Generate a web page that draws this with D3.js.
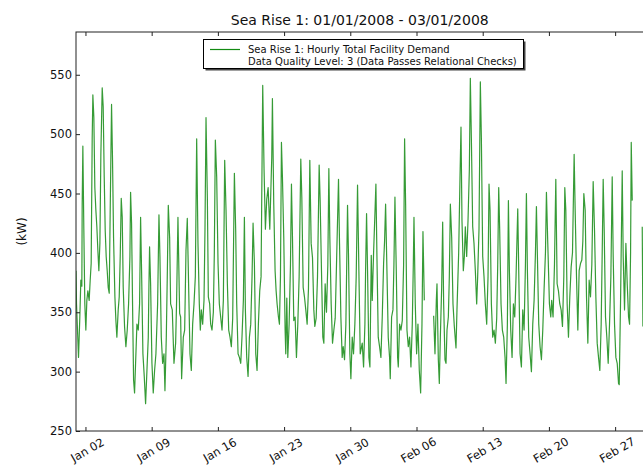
<!DOCTYPE html>
<html>
<head>
<meta charset="utf-8">
<script src="https://cdn.jsdelivr.net/npm/d3@7"></script>
<style>
  body { margin: 0; background: #fff; }
  text { font-family: 'DejaVu Sans', sans-serif; fill: #111; }
</style>
</head>
<body>
<script>
var TITLE = 'Sea Rise 1: 01/01/2008 - 03/01/2008';
var Y_LABEL = '(kW)';
var LEGEND_LINES = [
  'Sea Rise 1: Hourly Total Facility Demand',
  'Data Quality Level: 3 (Data Passes Relational Checks)'
];
var START = new Date(2008, 0, 1);
var END = new Date(2008, 2, 1);
var TICK_DATES = ['2008-01-02', '2008-01-09', '2008-01-16', '2008-01-23', '2008-01-30',
                  '2008-02-06', '2008-02-13', '2008-02-20', '2008-02-27'];
var Y_TICKS = [250, 300, 350, 400, 450, 500, 550];

// [hours since 01/01 00:00, kW]; null = missing data
var DEMAND_JAN_A = [
  [0, 385], [1.3, 357], [3.8, 335], [6.4, 312], [9.7, 346], [12.3, 377], [14.8, 372], [15.7, 441],
  [17.4, 490], [19.9, 419], [22.4, 357], [25.0, 335], [27.5, 360], [30.1, 368], [33.4, 360], [36.0, 377],
  [38.5, 391], [41.1, 497], [42.8, 533], [45.3, 514], [47.8, 455], [50.4, 436], [52.9, 422], [55.5, 402],
  [58.0, 385], [60.6, 408], [63.1, 483], [66.5, 539], [69.0, 523], [71.6, 464], [74.1, 419], [76.6, 397],
  [79.2, 385], [81.7, 371], [84.3, 366], [86.8, 436], [90.2, 525], [92.7, 478], [95.3, 413], [98.7, 363],
  [101.2, 343], [103.7, 329], [107.1, 352], [109.7, 363], [112.2, 397], [114.8, 446], [117.3, 430], [119.8, 371],
  [123.2, 338], [126.6, 321], [130.0, 335], [133.4, 357], [136.8, 397], [138.5, 451], [141.0, 425], [143.5, 357],
  [146.1, 293], [148.6, 282], [151.2, 307], [154.6, 340], [158.0, 335], [161.3, 357], [163.9, 430], [166.4, 385],
  [169.8, 315], [173.2, 296], [176.6, 273], [180.0, 301], [183.4, 329], [185.0, 371], [186.7, 405], [189.3, 374],
  [192.7, 307], [196.0, 282], [199.4, 301], [202.8, 315], [207.1, 357], [210.5, 432], [213.0, 397], [216.4, 329],
  [219.8, 307], [223.2, 315], [225.7, 284], [229.1, 329], [231.6, 380], [234.2, 440], [237.6, 413], [240.1, 357]
];
var DEMAND_JAN_B = [
  [244.3, 352], [248.6, 307], [252.8, 324], [255.3, 360], [258.7, 430], [263.0, 349], [265.5, 346], [268.0, 294],
  [272.3, 329], [275.7, 335], [279.1, 402], [282.4, 429], [286.7, 357], [289.2, 315], [292.6, 301], [296.0, 340],
  [299.4, 357], [302.8, 380], [306.2, 496], [309.5, 408], [312.9, 357], [315.5, 335], [318.0, 352], [321.4, 340],
  [324.8, 360], [327.3, 420], [329.9, 514], [333.3, 447], [335.8, 363], [339.2, 357], [341.7, 340], [345.1, 335],
  [348.5, 350], [351.0, 400], [353.6, 495], [357.0, 464], [360.4, 391], [363.7, 357], [367.1, 346], [370.5, 335],
  [373.9, 360], [377.3, 478], [380.7, 436], [384.1, 374], [387.5, 335], [390.8, 329], [394.2, 321], [397.6, 345],
  [401.9, 467], [405.2, 419], [407.8, 357], [411.2, 315], [414.6, 312], [418.0, 307], [421.3, 330], [424.7, 360],
  [427.3, 430], [429.8, 352], [433.2, 312], [436.6, 296], [440.0, 329], [443.4, 340], [446.7, 380], [449.3, 425],
  [452.7, 391], [456.1, 315], [459.4, 301], [462.8, 340], [466.2, 368], [469.6, 380], [473.8, 541], [477.2, 470]
];
var DEMAND_JAN_C = [
  [480.6, 420], [484.0, 445], [487.5, 455], [491.7, 420], [494.2, 450], [496.7, 480], [498.4, 530], [501.8, 441],
  [505.2, 385], [507.8, 368], [510.3, 357], [513.7, 346], [516.2, 340], [518.8, 380], [521.3, 493], [523.8, 464],
  [527.2, 413], [530.6, 335], [532.3, 315], [534.9, 362], [537.4, 312], [540.8, 340], [544.2, 390], [546.7, 458],
  [549.3, 413], [552.6, 343], [556.0, 346], [559.4, 312], [562.8, 340], [566.2, 380], [570.4, 479], [573.0, 447],
  [576.4, 371], [579.7, 363], [583.1, 352], [586.5, 340], [589.9, 370], [593.3, 478], [596.7, 408], [600.1, 396],
  [603.5, 352], [606.0, 338], [609.4, 345], [612.8, 380], [617.0, 474], [619.5, 444], [622.9, 385], [626.3, 329],
  [628.9, 324], [632.2, 374], [635.6, 350], [639.0, 390], [641.6, 471], [644.1, 413], [647.5, 357], [650.9, 324],
  [654.3, 335], [657.7, 345], [661.0, 390], [666.1, 462], [668.7, 408], [672.1, 346], [675.4, 312], [678.0, 321],
  [681.4, 310], [684.8, 340], [689.0, 440], [691.5, 397], [694.9, 315], [697.5, 294], [700.9, 329], [704.2, 315],
  [707.6, 340], [711.0, 380], [714.4, 457], [717.8, 385], [721.2, 315]
];
var DEMAND_FEB_A = [
  [726.3, 324], [729.7, 304], [733.1, 340], [734.8, 385], [737.3, 433], [739.8, 385], [743.2, 312], [745.8, 304],
  [749.2, 398], [751.7, 360], [755.1, 400], [758.5, 433], [761.0, 458], [763.6, 397], [766.9, 329], [770.3, 321],
  [773.7, 312], [777.1, 346], [780.5, 391], [783.0, 410], [785.6, 441], [789.0, 385], [792.3, 329], [795.7, 312],
  [797.4, 294], [800.8, 346], [804.2, 352], [806.7, 390], [809.3, 447], [812.7, 385], [816.1, 312], [817.8, 304],
  [821.1, 340], [824.5, 335], [827.9, 343], [831.3, 390], [833.8, 496], [836.4, 441], [839.8, 335], [843.2, 321],
  [846.5, 329], [849.9, 304], [853.3, 340], [855.9, 390], [857.6, 430], [860.9, 357], [864.3, 315], [867.7, 340],
  [871.1, 301], [874.5, 282], [877.9, 340], [880.4, 418], [883.8, 360], [895, null],
  [907.5, 347], [910.9, 315], [914.3, 360], [916.0, 374], [919.4, 310], [921.9, 290], [924.5, 329], [927.8, 370],
  [930.4, 426], [932.9, 357], [936.3, 310], [938.9, 307], [941.4, 335], [944.8, 346], [947.3, 380], [949.9, 441],
  [953.3, 413], [956.6, 357], [960.0, 338]
];
var DEMAND_FEB_B = [
  [964.2, 320], [966.7, 352], [971.0, 400], [974.4, 464], [976.9, 506], [979.4, 427], [982.8, 385], [985.4, 397],
  [987.9, 422], [991.3, 397], [994.7, 427], [998.1, 470], [1000.6, 547], [1003.2, 497], [1006.6, 422], [1009.9, 408],
  [1013.3, 385], [1016.7, 357], [1019.2, 380], [1022.6, 420], [1026.0, 544], [1028.6, 497], [1032.0, 397], [1035.3, 380],
  [1038.7, 357], [1042.1, 340], [1045.5, 380], [1048.0, 458], [1050.6, 436], [1054.0, 357], [1057.4, 329], [1060.7, 335],
  [1064.1, 324], [1067.5, 345], [1070.1, 390], [1072.6, 455], [1075.1, 419], [1078.5, 357], [1081.9, 335], [1085.3, 329],
  [1088.7, 312], [1091.2, 290], [1094.6, 340], [1097.2, 444], [1099.7, 385], [1103.1, 335], [1106.5, 312], [1109.9, 357],
  [1113.3, 346], [1116.6, 380], [1120.9, 437], [1123.4, 385], [1126.8, 315], [1130.2, 304], [1133.6, 352], [1137.0, 335],
  [1140.4, 390], [1142.9, 450], [1145.4, 385], [1148.8, 329], [1152.2, 315], [1155.6, 300], [1159.0, 340], [1162.4, 360],
  [1165.8, 400], [1168.3, 439], [1170.8, 397], [1174.2, 340], [1177.6, 321], [1181.0, 310], [1184.4, 335], [1187.8, 370],
  [1191.2, 400], [1193.7, 451], [1197.1, 408], [1201.3, 357], [1204.7, 346]
];
var DEMAND_FEB_C = [
  [1207.0, 360], [1210.5, 346], [1214.1, 390], [1217.5, 462], [1220.8, 374], [1224.2, 368], [1227.6, 357], [1231.0, 352],
  [1234.4, 338], [1237.8, 380], [1240.3, 455], [1242.9, 436], [1246.3, 357], [1249.6, 329], [1253.0, 363], [1256.4, 388],
  [1259.8, 400], [1264.0, 483], [1266.6, 436], [1270.0, 380], [1273.4, 335], [1276.7, 385], [1280.1, 391], [1283.5, 394],
  [1286.1, 410], [1288.6, 450], [1292.0, 436], [1295.4, 363], [1298.8, 324], [1302.1, 377], [1305.5, 363], [1308.9, 390],
  [1312.3, 460], [1315.7, 419], [1319.1, 363], [1322.5, 324], [1325.9, 312], [1329.2, 301], [1332.6, 340], [1335.2, 400],
  [1337.7, 462], [1340.3, 419], [1343.6, 346], [1347.0, 329], [1350.4, 307], [1353.8, 340], [1357.2, 380], [1360.6, 464],
  [1363.1, 397], [1366.5, 340], [1369.9, 312], [1373.3, 307], [1376.7, 290], [1378.4, 289], [1381.8, 360], [1386.0, 469],
  [1388.5, 397], [1391.9, 352], [1395.3, 408], [1398.7, 374], [1402.1, 346], [1404.6, 340], [1407.2, 400], [1408.9, 493],
  [1411.4, 444], [1424, null], [1436.8, 422], [1438.5, 338]
];

var width = 643, height = 470;
var plotLeft = 76, plotRight = 643.5, plotTop = 32, plotBottom = 431;

var data = [].concat(DEMAND_JAN_A, DEMAND_JAN_B, DEMAND_JAN_C, DEMAND_FEB_A, DEMAND_FEB_B, DEMAND_FEB_C)
    .map(function(d) { return { date: new Date(START.getTime() + d[0] * 3600e3), kw: d[1] }; });

var x = d3.scaleTime().domain([START, END]).range([plotLeft, plotRight]);
var y = d3.scaleLinear().domain([250, 586]).range([plotBottom, plotTop]);
var parse = d3.timeParse('%Y-%m-%d');
var fmt = d3.timeFormat('%b %d');
var ticks = TICK_DATES.map(parse);

var svg = d3.select('body').append('svg')
    .attr('width', width)
    .attr('height', height)
    ;

svg.append('defs').append('clipPath')
    .attr('id', 'plot')
    .append('rect')
    .attr('x', plotLeft).attr('y', plotTop)
    .attr('width', plotRight - plotLeft).attr('height', plotBottom - plotTop)
    ;

svg.append('text')
    .attr('x', (plotLeft + plotRight) / 2)
    .attr('y', 25)
    .attr('text-anchor', 'middle')
    .style('font-size', '14px')
    .text(TITLE)
    ;

var line = d3.line()
    .defined(function(d) { return d.kw !== null; })
    .x(function(d) { return x(d.date); })
    .y(function(d) { return y(d.kw); })
    ;

svg.append('path')
    .datum(data)
    .attr('clip-path', 'url(#plot)')
    .attr('fill', 'none')
    .attr('stroke', '#138a13')
    .attr('stroke-opacity', 0.85)
    .attr('stroke-width', 1.2)
    .attr('stroke-linejoin', 'round')
    .attr('d', line)
    ;

// inward ticks on all sides, like matplotlib
var yAxis = svg.append('g')
    .attr('transform', 'translate(' + plotLeft + ',0)')
    .call(d3.axisLeft(y).tickValues(Y_TICKS).tickSize(-4).tickPadding(4));
yAxis.selectAll('text').style('font-size', '11.5px');

svg.append('g')
    .attr('transform', 'translate(0,' + plotBottom + ')')
    .call(d3.axisBottom(x).tickValues(ticks).tickSize(-4).tickFormat(''));
svg.append('g')
    .attr('transform', 'translate(0,' + plotTop + ')')
    .call(d3.axisTop(x).tickValues(ticks).tickSize(-4).tickFormat(''));

svg.selectAll('.domain').remove();
svg.selectAll('.tick line').attr('stroke', '#222');

svg.append('g').selectAll('text')
    .data(ticks)
    .enter()
    .append('text')
    .attr('transform', function(d) { return 'translate(' + (x(d) + 2) + ',450) rotate(-30)'; })
    .attr('text-anchor', 'middle')
    .attr('dy', '0.35em')
    .style('font-size', '11.5px')
    .text(function(d) { return fmt(d); })
    ;

svg.append('rect')
    .attr('x', plotLeft).attr('y', plotTop)
    .attr('width', plotRight - plotLeft).attr('height', plotBottom - plotTop)
    .attr('fill', 'none')
    .attr('stroke', '#222')
    .attr('stroke-width', 1)
    ;

svg.append('text')
    .attr('transform', 'translate(22,' + (plotTop + plotBottom) / 2 + ') rotate(-90)')
    .attr('text-anchor', 'middle')
    .attr('dy', '0.35em')
    .style('font-size', '12px')
    .text(Y_LABEL)
    ;

// legend with drop shadow
var legend = svg.append('g');
legend.append('rect')
    .attr('x', 205.5).attr('y', 41.5).attr('width', 320).attr('height', 29)
    .attr('fill', '#444');
legend.append('rect')
    .attr('x', 203.5).attr('y', 39.5).attr('width', 320).attr('height', 29)
    .attr('fill', '#fff').attr('stroke', '#000').attr('stroke-width', 1);
legend.append('line')
    .attr('x1', 210).attr('x2', 240).attr('y1', 49.5).attr('y2', 49.5)
    .attr('stroke', '#138a13').attr('stroke-width', 1.2);
legend.selectAll('text.entry')
    .data(LEGEND_LINES)
    .enter()
    .append('text')
    .attr('class', 'entry')
    .attr('x', 248)
    .attr('y', function(d, i) { return 53 + i * 11.5; })
    .style('font-size', '10px')
    .text(function(d) { return d; })
    ;
</script>
</body>
</html>
